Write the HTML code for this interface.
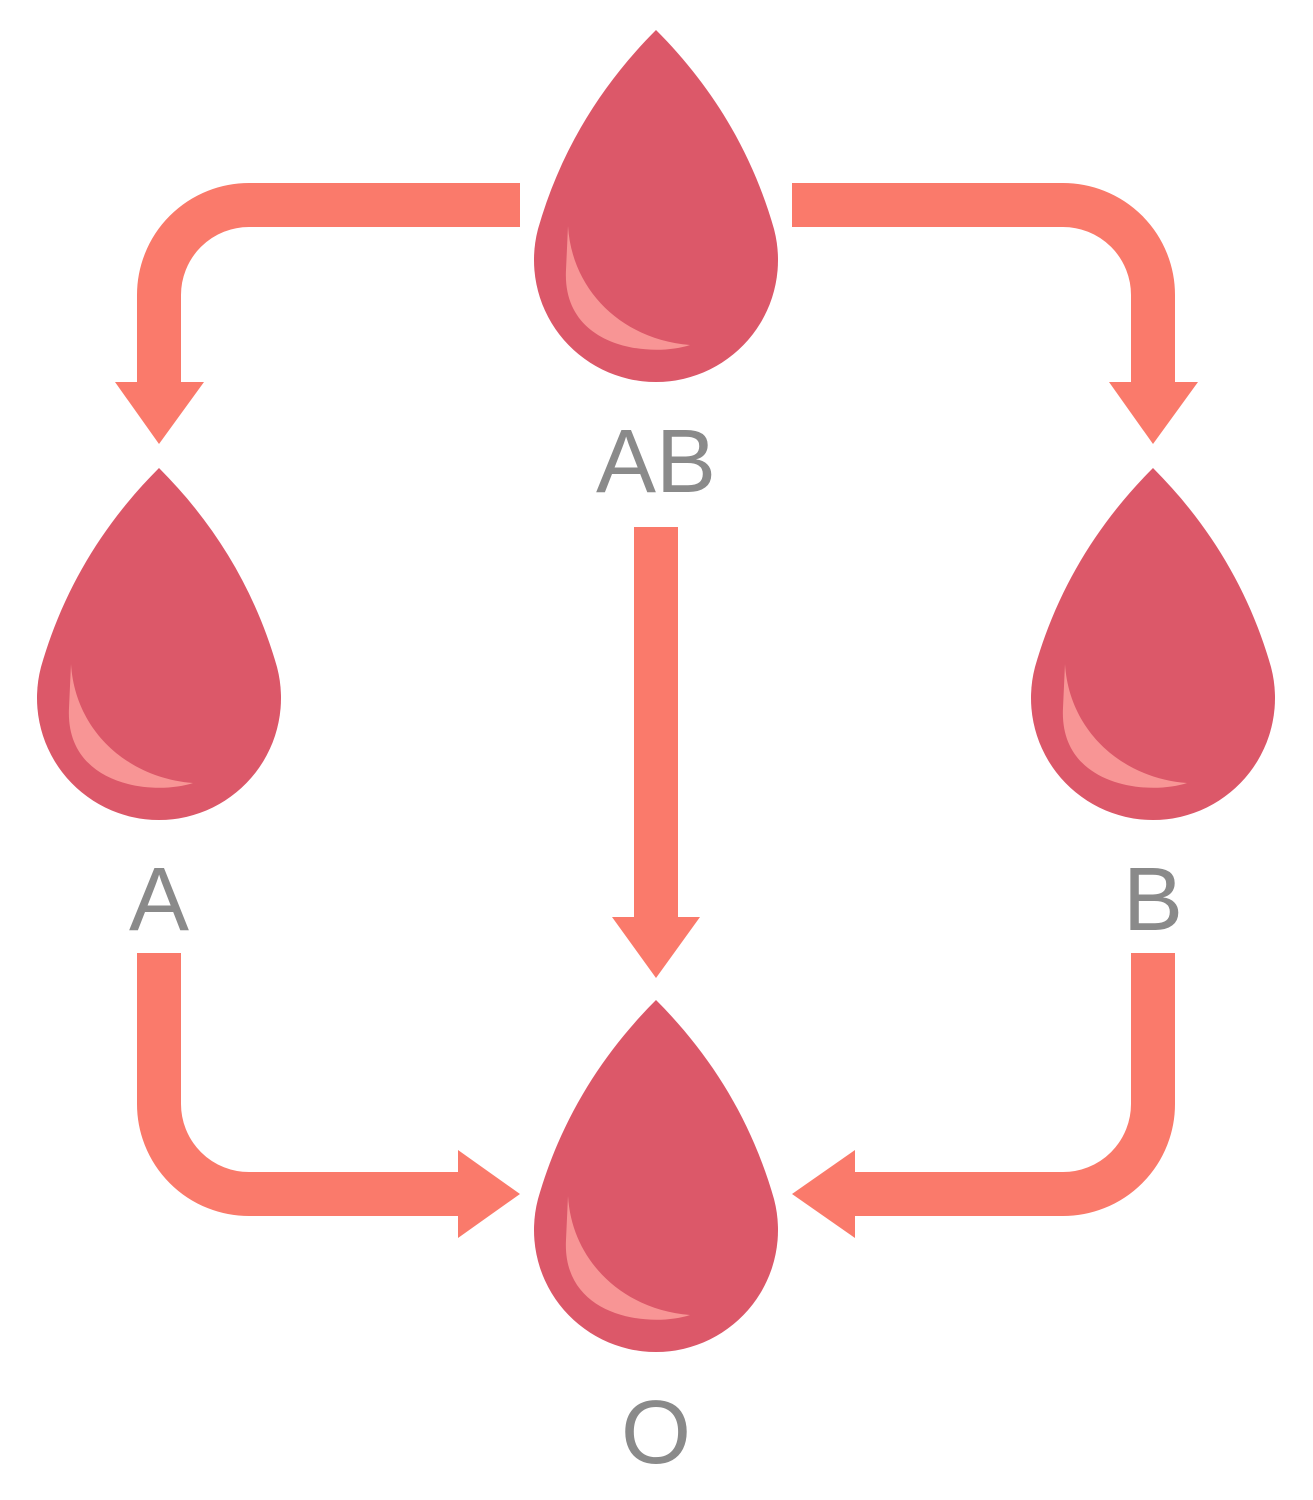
<!DOCTYPE html>
<html><head><meta charset="utf-8"><style>
html,body{margin:0;padding:0;background:#fff;}
svg{display:block;}
text{font-family:"Liberation Sans","DejaVu Sans",sans-serif;fill:#8a8a8a;font-size:90px;text-anchor:middle;}
</style></head><body>
<svg width="1313" height="1500" viewBox="0 0 1313 1500" xmlns="http://www.w3.org/2000/svg">
<defs>
<g id="drop">
<path d="M0,0 C-56,56 -96,122 -118,199 A122,122 0 1 0 118,199 C96,122 56,56 0,0 Z" fill="#dc5869"/>
<path d="M-88,196 C-84,262 -32,310 34,315 C-6,328 -94,318 -90,240 Z" fill="#f89595"/>
</g>
</defs>
<g fill="none" stroke="#fa7a6b" stroke-width="44">
<path d="M520,205 H249 A90,90 0 0 0 159,295 V383"/>
<path d="M792,205 H1063 A90,90 0 0 1 1153,295 V383"/>
<path d="M656,527 V918"/>
<path d="M159,953 V1104 A90,90 0 0 0 249,1194 H459"/>
<path d="M1153,953 V1104 A90,90 0 0 1 1063,1194 H854"/>
</g>
<g fill="#fa7a6b">
<polygon points="115,382 204,382 159,444"/>
<polygon points="1109,382 1198,382 1153,444"/>
<polygon points="612,917 700,917 656,978"/>
<polygon points="458,1150 458,1238 520,1194"/>
<polygon points="855,1150 855,1238 792,1194"/>
</g>
<use href="#drop" x="656" y="30"/>
<use href="#drop" x="159" y="468"/>
<use href="#drop" x="1153" y="468"/>
<use href="#drop" x="656" y="1000"/>
<text x="656" y="492">AB</text>
<text x="159" y="930">A</text>
<text x="1153" y="930">B</text>
<text x="656" y="1463">O</text>
</svg>
</body></html>
